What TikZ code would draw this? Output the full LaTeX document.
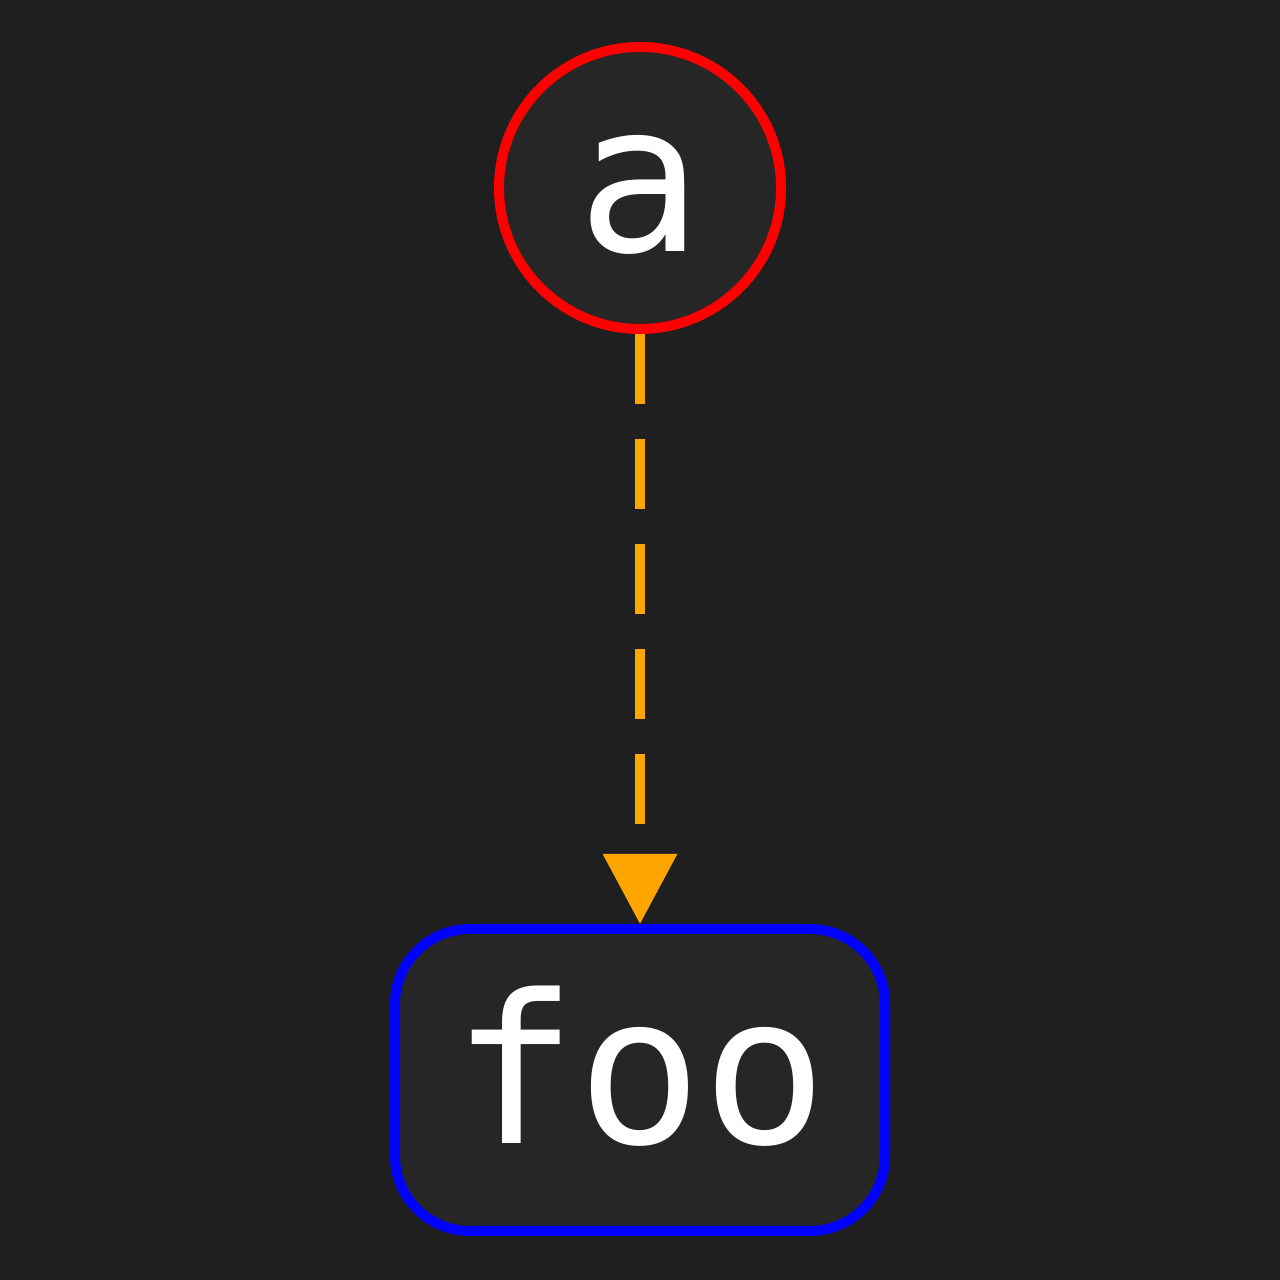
\documentclass[tikz,border=0pt]{standalone}
\usepackage{fontspec}
\setmonofont{DejaVu Sans Mono}
\usetikzlibrary{arrows.meta}
\definecolor{bg}{HTML}{1F1F1F}
\definecolor{nodefill}{HTML}{262626}
\definecolor{edgeorange}{HTML}{FFA500}
\begin{document}
\begin{tikzpicture}[
  nodebase/.style={fill=nodefill, line width=2.845pt, text=white,
    font=\ttfamily\fontsize{59}{66}\selectfont, text height=36pt, text depth=0pt,
    inner sep=0pt},
  circnode/.style={nodebase, circle, draw=red, minimum size=2.82cm},
  boxnode/.style={nodebase, rectangle, rounded corners=0.75cm, draw=blue,
    minimum width=4.9cm, minimum height=3.02cm},
  edge/.style={draw=edgeorange, line width=2.845pt, dash pattern=on 0.7cm off 0.35cm,
    -{Triangle[length=0.7cm,width=0.72cm,fill=edgeorange]}}
]
\fill[bg] (0,0) rectangle (12.8,12.8);
\useasboundingbox (0,0) rectangle (12.8,12.8);
\node[circnode] (a) at (6.4,10.92) {a};
\node[boxnode] (foo) at (6.4,2.0) {foo};
\draw[edge] (a) -- (foo);
\end{tikzpicture}
\end{document}
